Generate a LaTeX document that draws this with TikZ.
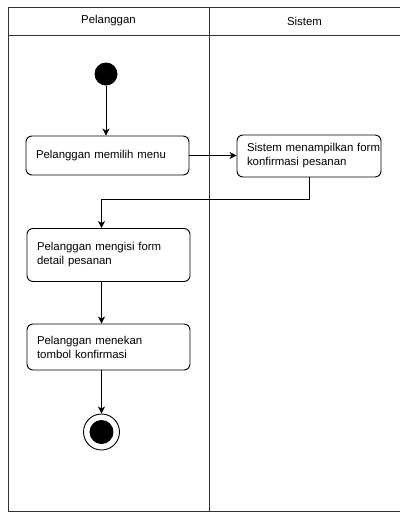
\documentclass[tikz,border=0pt]{standalone}
\usepackage{fontspec}
\setmainfont{Liberation Sans}
\usetikzlibrary{arrows.meta}
\begin{document}
\begin{tikzpicture}[x=1pt,y=-1pt,
  lane/.style={draw=black!80, line width=1pt},
  actbox/.style={draw=black, line width=0.9pt, rounded corners=6pt, fill=white,
    align=left, inner xsep=10pt, inner ysep=0pt,
    font=\fontsize{11.4}{14}\selectfont},
  flow/.style={draw=black, line width=0.9pt, -{Stealth[length=7pt,width=7pt,inset=2pt]}},
  hdr/.style={font=\fontsize{11.4}{14}\selectfont}
]
\useasboundingbox (0,0) rectangle (400,512);
% swimlanes
\draw[lane] (400,7) -- (8,7) -- (8,511) -- (400,511);
\draw[lane] (8,35) -- (400,35);
\draw[lane] (209,7) -- (209,511);
\node[hdr] (h1) at (108.5,21) {Pelanggan};
\node[hdr] (h2) at (304.5,21) {Sistem};
% start
\node[circle, fill=black, minimum size=23pt, inner sep=0pt] (start) at (106,74) {};
% activities
\node[actbox, minimum width=163pt, minimum height=39pt, text width=143pt] (b1) at (107.5,155.5) {Pelanggan memilih menu};
\node[actbox, minimum width=144pt, minimum height=42pt, text width=124pt] (b2) at (309,156) {Sistem~menampilkan~form\\konfirmasi pesanan};
\node[actbox, minimum width=163pt, minimum height=53pt, text width=143pt] (b3) at (108.5,255) {Pelanggan mengisi form\\detail pesanan};
\node[actbox, minimum width=163pt, minimum height=46pt, text width=143pt] (b4) at (108.5,347) {Pelanggan menekan\\tombol konfirmasi};
% end
\node[circle, draw=black, line width=0.9pt, minimum size=36pt, inner sep=0pt] (endo) at (101.5,432) {};
\node[circle, fill=black, minimum size=24pt, inner sep=0pt] (endi) at (101.5,432) {};
\coordinate (turn) at (101.5,199);
% flows
\draw[flow] (start) -- (start |- b1.north);
\draw[flow] (b1.east) -- (b1.east -| b2.west);
\draw[flow] (b2.south) |- (turn) -- (turn |- b3.north);
\draw[flow] (b3.south -| turn) -- (b4.north -| turn);
\draw[flow] (b4.south -| turn) -- (endo.north);
\end{tikzpicture}
\end{document}
